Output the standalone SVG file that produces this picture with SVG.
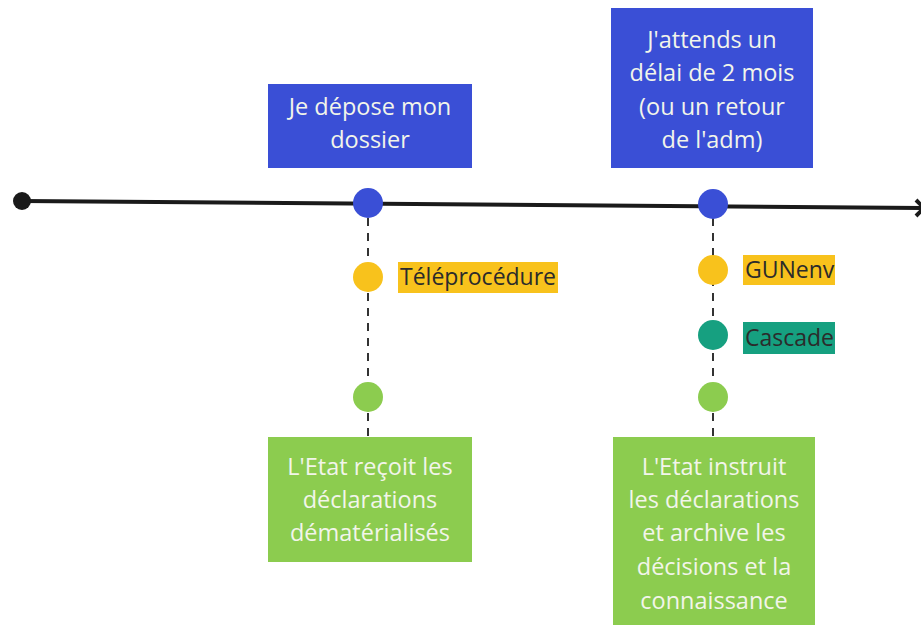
<svg xmlns="http://www.w3.org/2000/svg" width="921" height="625" viewBox="0 0 921 625">
<style>
.t{font-family:"Open Sans","Noto Sans","Liberation Sans",sans-serif;font-size:23.5px;text-anchor:middle}
.w{fill:#f2f5ea}
.lbl{font-family:"Open Sans","Noto Sans","Liberation Sans",sans-serif;font-size:23px;fill:#2b2b2b}
.dash{stroke:#333;stroke-width:2;stroke-dasharray:8 7;fill:none}
.blue{fill:#3a4fd6}
.green{fill:#8ccc4f}
.yellow{fill:#f8c21c}
.teal{fill:#16a080}
</style>
<rect width="921" height="625" fill="#ffffff"/>
<g id="connectors">
<line x1="22" y1="201" x2="921" y2="208" stroke="#1a1a1a" stroke-width="4"/>
<polyline points="916,200 924,208 916,216" fill="none" stroke="#1a1a1a" stroke-width="4"/>
<line class="dash" x1="368" y1="218" x2="368" y2="437"/>
<line class="dash" x1="713" y1="218" x2="713" y2="437"/>
</g>
<g id="start"><circle cx="22" cy="201" r="9" fill="#1a1a1a"/></g>
<g id="box1"><rect class="blue" x="268" y="84" width="204" height="84"/>
<text class="t w" x="370" y="115">Je dépose mon</text>
<text class="t w" x="370" y="148">dossier</text></g>
<g id="box2"><rect class="blue" x="611" y="8" width="202" height="160"/>
<text class="t w" x="712" y="48">J'attends un</text>
<text class="t w" x="712" y="81">délai de 2 mois</text>
<text class="t w" x="712" y="115">(ou un retour</text>
<text class="t w" x="712" y="148">de l'adm)</text></g>
<g id="dot-blue1"><circle class="blue" cx="368" cy="203" r="15"/></g>
<g id="dot-blue2"><circle class="blue" cx="713" cy="204" r="15"/></g>
<g id="teleprocedure"><circle class="yellow" cx="368" cy="277" r="15"/>
<rect class="yellow" x="398" y="262" width="160" height="31"/>
<text class="lbl" x="400" y="285">Téléprocédure</text></g>
<g id="gunenv"><circle class="yellow" cx="713" cy="270" r="15"/>
<rect class="yellow" x="743" y="255" width="92" height="30"/>
<text class="lbl" x="745" y="278">GUNenv</text></g>
<g id="cascade"><circle class="teal" cx="713" cy="335" r="15"/>
<rect class="teal" x="743" y="322" width="92" height="32"/>
<text class="lbl" x="745" y="346">Cascade</text></g>
<g id="dot-green1"><circle class="green" cx="368" cy="397" r="15"/></g>
<g id="dot-green2"><circle class="green" cx="713" cy="397" r="15"/></g>
<g id="box3"><rect class="green" x="268" y="437" width="204" height="125"/>
<text class="t w" x="370" y="475">L'Etat reçoit les</text>
<text class="t w" x="370" y="508">déclarations</text>
<text class="t w" x="370" y="541">dématérialisés</text></g>
<g id="box4"><rect class="green" x="613" y="437" width="202" height="190"/>
<text class="t w" x="714" y="475">L'Etat instruit</text>
<text class="t w" x="714" y="508">les déclarations</text>
<text class="t w" x="714" y="541">et archive les</text>
<text class="t w" x="714" y="575">décisions et la</text>
<text class="t w" x="714" y="609">connaissance</text></g>
</svg>
